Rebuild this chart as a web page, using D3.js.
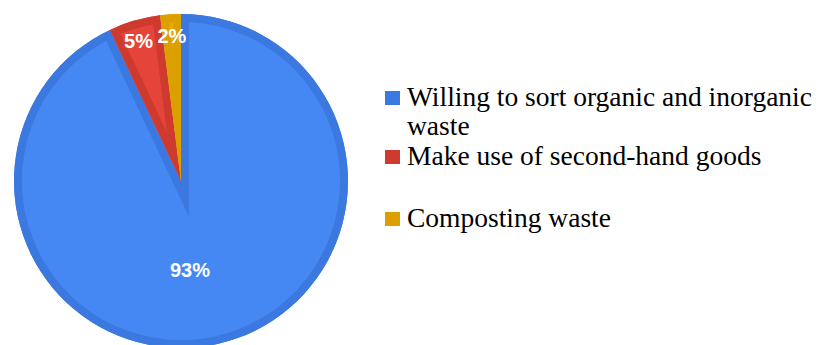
<!DOCTYPE html>
<html>
<head>
<meta charset="utf-8">
<script src="https://cdn.jsdelivr.net/npm/d3@7"></script>
<style>
  html, body { margin: 0; padding: 0; background: #fff; }
  svg { display: block; }
</style>
</head>
<body>
<svg id="chart" width="820" height="345"></svg>
<script>
// Survey answers: share of respondents per behaviour
const categories = [
  "Willing to sort organic and inorganic waste",
  "Make use of second-hand goods",
  "Composting waste"
];
const values = [93, 5, 2];
const valueLabels = ["93%", "5%", "2%"];
const legendLines = [
  ["Willing to sort organic and inorganic", "waste"],
  ["Make use of second-hand goods"],
  ["Composting waste"]
];
const fillColors = ["#4688f3", "#e5443a", "#e8a900"];
const edgeColors = ["#3b78df", "#cf3a2f", "#dba000"];

const svg = d3.select("#chart");
const cx = 181, cy = 181, R = 167;

// Big slice runs clockwise from 12 o'clock; the small ones fill the gap left of the top
const total = d3.sum(values);
const angle = d3.scaleLinear().domain([0, total]).range([0, 2 * Math.PI]);
const slices = [
  { index: 0, startAngle: 0, endAngle: angle(values[0]) },
  { index: 1, startAngle: -angle(values[1] + values[2]), endAngle: -angle(values[2]) },
  { index: 2, startAngle: -angle(values[2]), endAngle: 0 }
];

const arc = d3.arc().innerRadius(0).outerRadius(R);
const g = svg.append("g").attr("transform", `translate(${cx},${cy})`);

const defs = svg.append("defs");
slices.forEach((s, i) => {
  defs.append("clipPath").attr("id", "clip" + i)
    .append("path").attr("d", arc(s));
});

const sg = g.selectAll("g.slice").data(slices).enter().append("g").attr("class", "slice");
sg.append("path")
  .attr("d", d => arc(d))
  .attr("fill", (d, i) => fillColors[i]);
// darker rim drawn inside each slice
sg.append("path")
  .attr("d", d => arc(d))
  .attr("fill", "none")
  .attr("stroke", (d, i) => edgeColors[i])
  .attr("stroke-width", 16)
  .attr("stroke-linejoin", "miter")
  .attr("stroke-miterlimit", 20)
  .attr("clip-path", (d, i) => `url(#clip${i})`);

// value labels
const labelArc = d3.arc().innerRadius(R * 0.87).outerRadius(R * 0.87);
const labelFont = "'Liberation Sans', Arial, sans-serif";
slices.forEach((s, i) => {
  let x, y;
  if (i === 0) {
    x = 9; y = R * 0.53;
  } else {
    [x, y] = labelArc.centroid(s);
    if (i === 1) x -= 2;
  }
  g.append("text")
    .attr("x", x).attr("y", y)
    .attr("dy", "0.35em")
    .attr("text-anchor", "middle")
    .attr("fill", "#fff")
    .attr("font-family", labelFont)
    .attr("font-weight", "bold")
    .attr("font-size", 20)
    .text(valueLabels[i]);
});

// legend
const legendY = [106, 165, 227];
const legend = svg.append("g").attr("font-family", "'Liberation Serif', 'Times New Roman', serif");
legendLines.forEach((lines, i) => {
  legend.append("rect")
    .attr("x", 385).attr("y", legendY[i] - 15)
    .attr("width", 15).attr("height", 14)
    .attr("fill", edgeColors[i]);
  const t = legend.append("text")
    .attr("x", 407).attr("y", legendY[i])
    .attr("font-size", 27.5)
    .attr("fill", "#000");
  lines.forEach((ln, j) => {
    t.append("tspan").attr("x", 407).attr("dy", j === 0 ? 0 : 29).text(ln);
  });
});
</script>
</body>
</html>
